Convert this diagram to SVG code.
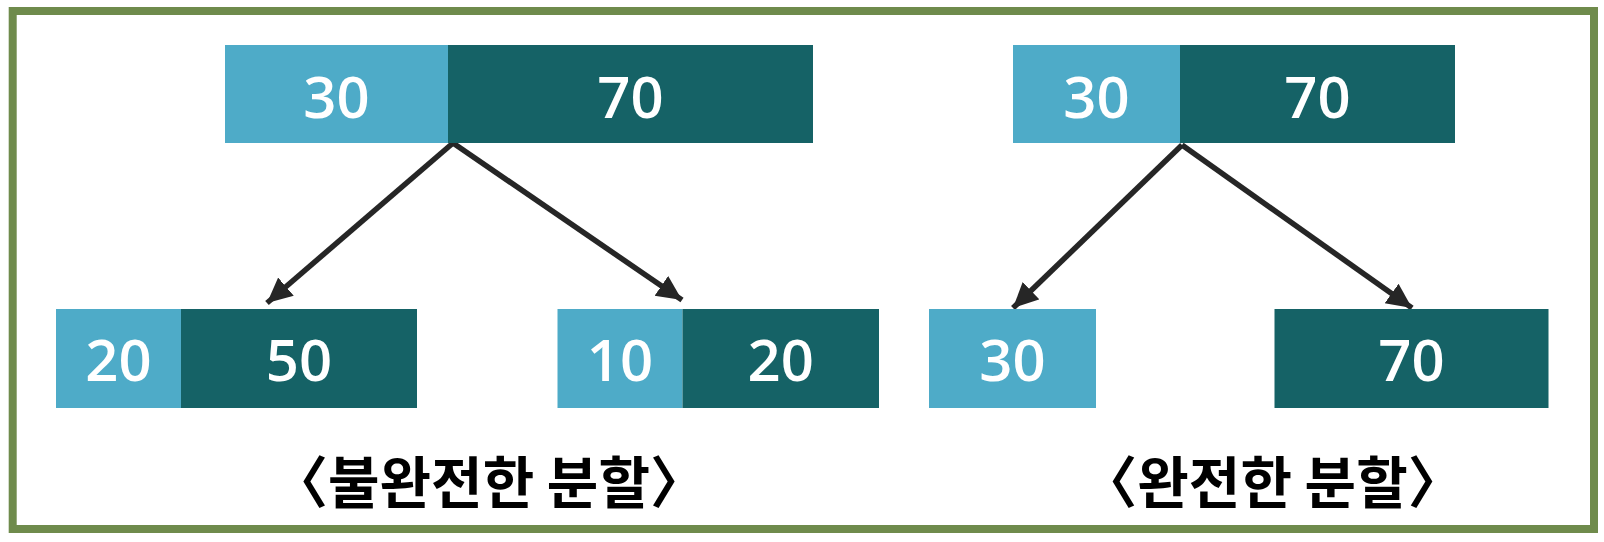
<svg xmlns="http://www.w3.org/2000/svg" width="1604" height="542" viewBox="0 0 1604 542">
  <style>
    .light { fill: #4eabc8; }
    .dark { fill: #156266; }
    .num { font-family: "Open Sans", "Noto Sans", sans-serif; font-weight: 600; font-size: 58px; fill: #ffffff; text-anchor: middle; }
    .label { font-family: "Noto Sans CJK KR", sans-serif; font-weight: bold; font-size: 56px; fill: #000000; text-anchor: middle; }
    .conn { stroke: #262626; stroke-width: 5.5; fill: none; marker-end: url(#arrow); }
  </style>
  <defs>
    <marker id="arrow" markerUnits="userSpaceOnUse" markerWidth="30" markerHeight="30" refX="25" refY="12" orient="auto">
      <path d="M0,0 L25,12 L0,24 Z" fill="#262626"/>
    </marker>
  </defs>
  <rect x="0" y="0" width="1604" height="542" fill="#ffffff"/>
  <rect id="frame" x="12.7" y="11" width="1581.3" height="518" fill="none" stroke="#6f8b4c" stroke-width="8"/>

  <g id="connectors">
    <line class="conn" x1="453" y1="143" x2="267" y2="303"/>
    <line class="conn" x1="453" y1="143" x2="682" y2="300"/>
    <line class="conn" x1="1182" y1="145" x2="1013" y2="308"/>
    <line class="conn" x1="1182" y1="145" x2="1412" y2="308"/>
  </g>

  <g id="top-left">
    <rect class="light" x="225" y="45" width="223" height="98"/>
    <rect class="dark" x="448" y="45" width="365" height="98"/>
    <text class="num" x="336.5" y="118">30</text>
    <text class="num" x="630.5" y="118">70</text>
  </g>

  <g id="bottom-left-a">
    <rect class="light" x="56" y="309" width="125" height="99"/>
    <rect class="dark" x="181" y="309" width="236" height="99"/>
    <text class="num" x="118.5" y="381">20</text>
    <text class="num" x="299" y="381">50</text>
  </g>

  <g id="bottom-left-b">
    <rect class="light" x="557.5" y="309" width="125" height="99"/>
    <rect class="dark" x="682.5" y="309" width="196.5" height="99"/>
    <text class="num" x="620" y="381">10</text>
    <text class="num" x="780.75" y="381">20</text>
  </g>

  <g id="top-right">
    <rect class="light" x="1013" y="45" width="167" height="98"/>
    <rect class="dark" x="1180" y="45" width="275" height="98"/>
    <text class="num" x="1096.5" y="118">30</text>
    <text class="num" x="1317.5" y="118">70</text>
  </g>

  <g id="bottom-right-a">
    <rect class="light" x="929" y="309" width="167" height="99"/>
    <text class="num" x="1012.5" y="381">30</text>
  </g>

  <g id="bottom-right-b">
    <rect class="dark" x="1274.5" y="309" width="274" height="99"/>
    <text class="num" x="1411.5" y="381">70</text>
  </g>

  <g id="label-left">
    <text class="label" x="489" y="503">〈불완전한 분할〉</text>
  </g>
  <g id="label-right">
    <text class="label" x="1272.5" y="503">〈완전한 분할〉</text>
  </g>
</svg>
